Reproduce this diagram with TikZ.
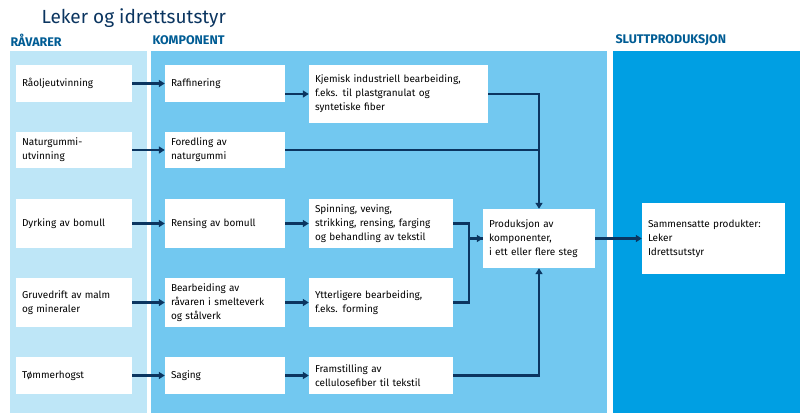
\documentclass[tikz,border=0pt]{standalone}
\usepackage{fontspec}
\setmainfont{Fira Sans}
\usetikzlibrary{arrows.meta}
\definecolor{navy}{HTML}{0B3560}
\definecolor{headblue}{HTML}{005C94}
\definecolor{rawbg}{HTML}{BEE6F7}
\definecolor{compbg}{HTML}{72C8F0}
\definecolor{finalbg}{HTML}{009FE3}
\tikzset{
  box/.style={fill=white, align=left, inner sep=6pt, font=\fontsize{10}{14}\selectfont},
  flow/.style={navy, line width=2.2pt, -{Triangle[length=6pt,width=7pt]}},
  link/.style={navy, line width=2.2pt},
  head/.style={anchor=west, headblue, font=\fontsize{12.5}{14}\selectfont\bfseries}
}
\begin{document}
\begin{tikzpicture}[x=1pt,y=-1pt]
\useasboundingbox (0,0) rectangle (800,413);
% Title and headings
\node[anchor=west, navy, font=\fontsize{19}{22}\selectfont] (title) at (38,18) {Leker og idrettsutstyr};
\node[head] (hraw) at (7,40) {RÅVARER};
\node[head] (hcomp) at (149,40) {KOMPONENT};
\node[head] (hfinal) at (612,40) {SLUTTPRODUKSJON};

% Panels
\fill[rawbg] (10,51) rectangle (147,413);
\fill[compbg] (151,51) rectangle (607,413);
\fill[finalbg] (613,51) rectangle (800,413);

% Raw materials
\node[box, text width=104pt, minimum height=37pt] (olje) at (74,83.5) {Råoljeutvinning};
\node[box, text width=104pt, minimum height=36pt] (gummi) at (74,150) {Naturgummi-\\utvinning};
\node[box, text width=104pt, minimum height=49pt] (bomull) at (74,223.5) {Dyrking av bomull};
\node[box, text width=104pt, minimum height=49pt] (gruve) at (74,302.5) {Gruvedrift av malm\\og mineraler};
\node[box, text width=104pt, minimum height=37pt] (tommer) at (74,375.5) {Tømmerhogst};

% First step
\node[box, text width=108pt, minimum height=37pt] (raff) at (225,83.5) {Raffinering};
\node[box, text width=108pt, minimum height=36pt] (fored) at (225,150) {Foredling av\\naturgummi};
\node[box, text width=108pt, minimum height=49pt] (rens) at (225,223.5) {Rensing av bomull};
\node[box, text width=108pt, minimum height=49pt] (smelte) at (225,302.5) {Bearbeiding av\\råvaren i smelteverk\\og stålverk};
\node[box, text width=108pt, minimum height=37pt] (saging) at (225,375.5) {Saging};

% Second step
\node[box, text width=167pt, minimum height=58pt] (kjem) at (398.5,94) {Kjemisk industriell bearbeiding,\\f.eks. til plastgranulat og\\syntetiske fiber};
\node[box, text width=132pt, minimum height=49pt] (spinn) at (381,223.5) {Spinning, veving,\\strikking, rensing, farging\\og behandling av tekstil};
\node[box, text width=132pt, minimum height=49pt] (ytter) at (381,302.5) {Ytterligere bearbeiding,\\f.eks. forming};
\node[box, text width=132pt, minimum height=37pt] (fram) at (381,375.5) {Framstilling av\\cellulosefiber til tekstil};

% Production
\node[box, text width=100pt, minimum height=59pt] (prod) at (539,238.5) {Produksjon av\\komponenter,\\i ett eller flere steg};
\node[box, text width=131pt, minimum height=71pt] (ferdig) at (713.5,238.5) {Sammensatte produkter:\\Leker\\Idrettsutstyr};

% Arrows
\foreach \a/\b in {olje/raff, gummi/fored, bomull/rens, gruve/smelte, tommer/saging, raff/kjem, rens/spinn, smelte/ytter, saging/fram}
  \draw[flow] (\a.east |- \b.west) -- (\b.west);
\draw[flow] (kjem.east) -| (prod.north);
\draw[link] (fored.east) -- (fored.east -| prod.north);
\draw[flow] (spinn.east) -- ++(16,0) |- (prod.west);
\draw[link] (ytter.east) -- ++(16,0) |- (prod.west);
\draw[flow] (fram.east) -| (prod.south);
\draw[flow] (prod.east) -- (ferdig.west);
\end{tikzpicture}
\end{document}
